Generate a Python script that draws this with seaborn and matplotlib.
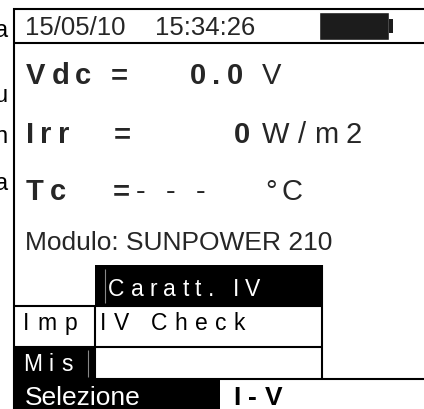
import matplotlib
matplotlib.use("Agg")
import matplotlib.pyplot as plt
import seaborn as sns
import pandas as pd
from matplotlib.patches import Rectangle

# ---- data (screen content) ----
date_str = "15/05/10"
time_str = "15:34:26"
battery_level = [100]
meas_labels = ["Vdc", "Irr", "Tc"]
meas_values = ["0.0", "0", "- - -"]
meas_units = ["V", "W/m2", "°C"]
module_text = "Modulo: SUNPOWER 210"
menu_items = ["Caratt. IV", "IV Check"]
side_items = ["Imp", "Mis"]
footer_label = "Selezione"
footer_value = "I-V"
margin_letters = ["a", "u", "n", "a"]

sns.set_theme(style="white")
plt.rcParams["font.family"] = ["Liberation Sans", "DejaVu Sans"]

W, H = 424, 410
fig = plt.figure(figsize=(W / 100, H / 100), dpi=100)
ax = fig.add_axes([0, 0, 1, 1])
ax.set_xlim(0, W)
ax.set_ylim(H, 0)
ax.axis("off")
renderer = fig.canvas.get_renderer()


def spaced(x, y, s, spacing, **kw):
    for ch in s:
        t = ax.text(x, y, ch, va="baseline", ha="left", **kw)
        w = t.get_window_extent(renderer).width
        x += w + spacing
    return x


def line(xs, ys, lw=1.5, color="black"):
    ax.plot(xs, ys, color=color, lw=lw, solid_capstyle="butt")


# stray margin letters (cut off page text)
for ch, yb in zip(margin_letters, [37, 102, 143, 190]):
    ax.text(8, yb, ch, fontsize=17, ha="right", va="baseline", color="black")

# frame lines
line([13, W], [9.5, 9.5])
line([13, W], [44, 44])
line([14, 14], [9, H])

# header
ax.text(25, 35, date_str, fontsize=18.5, va="baseline", ha="left")
ax.text(155, 35, time_str, fontsize=18.5, va="baseline", ha="left")

# battery via seaborn bar
bax = fig.add_axes([319 / W, 1 - 40.5 / H, 70 / W, 27.5 / H])
df = pd.DataFrame({"level": battery_level, "cell": ["batt"]})
sns.barplot(data=df, x="level", y="cell", color="#1c1c1c", width=1.0,
            saturation=1, ax=bax)
bax.set_xlim(0, 100)
bax.set_ylim(0.5, -0.5)
bax.axis("off")
ax.add_patch(Rectangle((389, 20), 4, 14, color="#1c1c1c", lw=0))

# measurement rows
baselines = [84, 143, 200]
eq_x = [111, 114, 113]
val_x = [190, 234, None]
unit_x = [262, 262, 265]
for lab, val, unit, yb, ex, vx, ux in zip(meas_labels, meas_values, meas_units,
                                          baselines, eq_x, val_x, unit_x):
    spaced(26, yb, lab, 6, fontsize=21, fontweight="bold")
    end = spaced(ex, yb, "=", 0, fontsize=21, fontweight="bold")
    if vx is None:
        spaced(end + 6, yb, val, 6, fontsize=21)
    else:
        spaced(vx, yb, val, 6, fontsize=21, fontweight="bold")
    spaced(ux, yb, unit, 8 if unit != "°C" else 5, fontsize=21)

# module line
ax.text(25, 250, module_text, fontsize=19, va="baseline", ha="left")

# menu
ax.add_patch(Rectangle((95, 266), 226, 41, color="black", lw=0))
line([105, 105], [270, 304], lw=0.8, color="#888888")
spaced(108, 296, menu_items[0], 6.2, fontsize=16.5, color="white")
line([14, 321], [307, 307])
line([14, 321], [348, 348])
line([95, 95], [307, 380])
line([321.5, 321.5], [266, 381])
spaced(100, 330, menu_items[1], 7.5, fontsize=16.5, color="black")
spaced(23, 330, side_items[0], 8, fontsize=16.5, color="black")

ax.add_patch(Rectangle((13, 348), 82, 32, color="black", lw=0))
line([88, 88], [351, 378], lw=0.8, color="#888888")
spaced(23, 371, side_items[1], 7, fontsize=16.5, color="white")
line([95, W], [380, 380])

# footer
ax.add_patch(Rectangle((13, 380), 207, 30, color="black", lw=0))
ax.text(25, 405, footer_label, fontsize=19, color="white", va="baseline", ha="left")
spaced(233, 405, footer_value, 8, fontsize=19, fontweight="bold", color="black")

fig.savefig("out.png", dpi=100, facecolor="white")
